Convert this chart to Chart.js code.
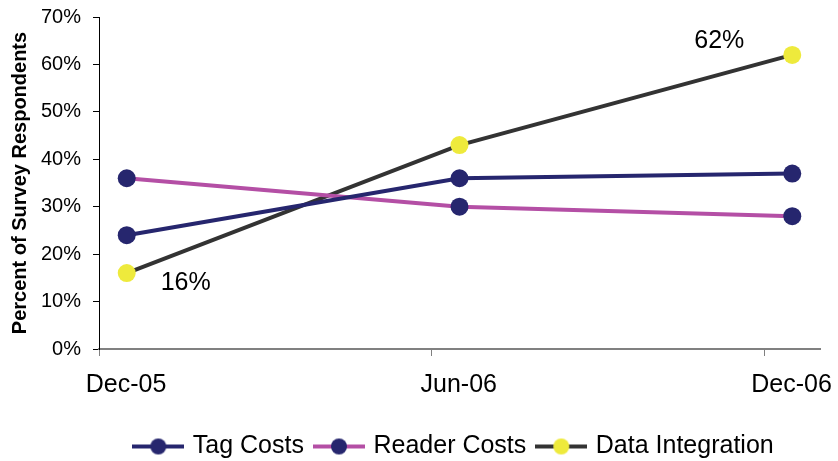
<!DOCTYPE html>
<html>
<head>
<meta charset="utf-8">
<script src="https://cdn.jsdelivr.net/npm/chart.js@4"></script>
<style>
    html, body { margin: 0; padding: 0; background: #fff; }
    #wrap { width: 838px; height: 461px; }
</style>
</head>
<body>
<div id="wrap"><canvas id="myChart"></canvas></div>
<script>
// months since Dec-05
const months = [0, 6, 12];
const xLabels = ['Dec-05', 'Jun-06', 'Dec-06'];
const xTickPos = [-0.5, 5.5, 11.5];
const yTicks = [0, 10, 20, 30, 40, 50, 60, 70];

const tagCosts = [24, 36, 37];
const readerCosts = [36, 30, 28];
const dataIntegration = [16, 43, 62];

const seriesNames = ['Tag Costs', 'Reader Costs', 'Data Integration'];
const lineColors = ['#26266e', '#b44fa5', '#333333'];
const markerColors = ['#26266e', '#26266e', '#eeea3c'];

// label shown next to some Data Integration points
const diLabels = [
    { index: 0, text: '16%', dx: 59, dy: 10 },
    { index: 2, text: '62%', dx: -73, dy: -14 }
];

const FONT = 'Liberation Sans, Arial, sans-serif';

function legendIcon(lineColor, markerColor) {
    const c = document.createElement('canvas');
    c.width = 52;
    c.height = 20;
    const g = c.getContext('2d');
    g.strokeStyle = lineColor;
    g.lineWidth = 4;
    g.beginPath();
    g.moveTo(0, 10);
    g.lineTo(52, 10);
    g.stroke();
    g.fillStyle = markerColor;
    g.beginPath();
    g.arc(26, 10, 8, 0, Math.PI * 2);
    g.fill();
    return c;
}

const icons = seriesNames.map((n, i) => legendIcon(lineColors[i], markerColors[i]));

function toPoints(values) {
    return values.map((v, i) => ({ x: months[i], y: v }));
}

const pointLabels = {
    id: 'pointLabels',
    afterLayout(chart) {
        // center the legend under the plot rather than the canvas
        chart.legend.left = 90;
    },
    afterDatasetsDraw(chart) {
        const ctx = chart.ctx;
        const meta = chart.getDatasetMeta(2);
        ctx.save();
        ctx.font = '25px ' + FONT;
        ctx.fillStyle = '#000';
        ctx.textAlign = 'center';
        ctx.textBaseline = 'middle';
        diLabels.forEach(l => {
            const p = meta.data[l.index];
            ctx.fillText(l.text, p.x + l.dx, p.y + l.dy);
        });
        ctx.restore();
    }
};

const ctx = document.getElementById('myChart').getContext('2d');
const myChart = new Chart(ctx, {
    type: 'line',
    data: {
        datasets: [tagCosts, readerCosts, dataIntegration].map((vals, i) => ({
            label: seriesNames[i],
            data: toPoints(vals),
            borderColor: lineColors[i],
            backgroundColor: markerColors[i],
            borderWidth: 4,
            pointRadius: 9,
            pointBorderWidth: 0,
            pointBackgroundColor: markerColors[i],
            tension: 0
        }))
    },
    options: {
        responsive: true,
        maintainAspectRatio: false,
        animation: false,
        layout: { padding: { left: 0, right: 18, top: 6, bottom: -8 } },
        plugins: {
            tooltip: { enabled: false },
            legend: {
                position: 'bottom',
                labels: {
                    usePointStyle: true,
                    pointStyleWidth: 44,
                    padding: 13,
                    color: '#000',
                    font: { family: FONT, size: 25 },
                    generateLabels: chart => seriesNames.map((n, i) => ({
                        text: n,
                        pointStyle: icons[i],
                        fillStyle: markerColors[i],
                        strokeStyle: lineColors[i],
                        lineWidth: 0,
                        datasetIndex: i,
                        hidden: false
                    }))
                }
            }
        },
        scales: {
            x: {
                type: 'linear',
                min: -0.5,
                max: 12.5,
                afterBuildTicks: scale => {
                    scale.ticks = xTickPos.map(v => ({ value: v }));
                },
                afterFit: scale => { scale.height += 7; },
                grid: { drawOnChartArea: false, color: '#808080', tickLength: 7, lineWidth: 1 },
                border: { color: '#808080', width: 2 },
                ticks: {
                    autoSkip: false,
                    maxRotation: 0,
                    labelOffset: 27,
                    padding: 14,
                    color: '#000',
                    font: { family: FONT, size: 25 },
                    callback: (v, i) => xLabels[i]
                }
            },
            y: {
                min: 0,
                max: 70,
                afterBuildTicks: scale => {
                    scale.ticks = yTicks.map(v => ({ value: v }));
                },
                afterFit: scale => { scale.width = 99; },
                grid: { drawOnChartArea: false, color: '#000', tickLength: 6, lineWidth: 1 },
                border: { color: '#000', width: 1 },
                ticks: {
                    padding: 12,
                    color: '#000',
                    font: { family: FONT, size: 20, lineHeight: 0.5 },
                    callback: v => v + '%'
                },
                title: {
                    display: true,
                    text: 'Percent of Survey Respondents',
                    color: '#000',
                    font: { family: FONT, size: 20, weight: 'bold' },
                    padding: { top: 8, bottom: 0 }
                }
            }
        }
    },
    plugins: [pointLabels]
});
</script>
</body>
</html>
